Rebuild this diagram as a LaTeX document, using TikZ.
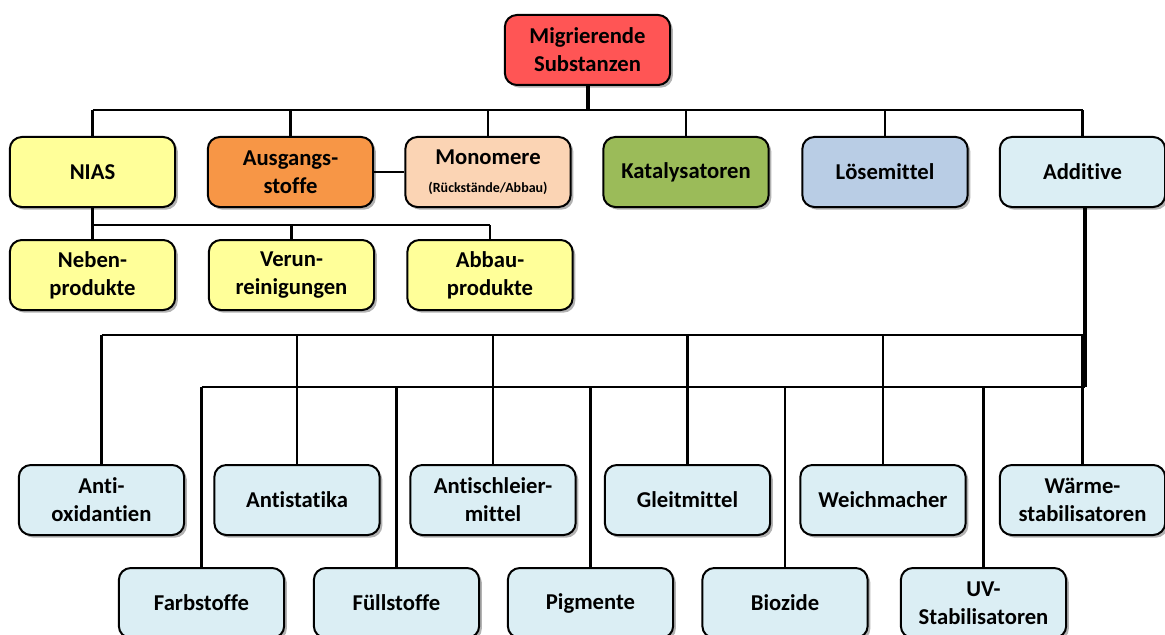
\documentclass[tikz,border=0pt]{standalone}
\usepackage{fontspec}
\setmainfont[Ligatures={NoCommon,NoRequired,NoContextual,NoRare},RawFeature={-calt}]{Carlito}
\usetikzlibrary{shadows}
\newcommand\zk{\kern0pt }
\definecolor{cred}{HTML}{FF5555}
\definecolor{cyel}{HTML}{FFFF99}
\definecolor{corg}{HTML}{F79646}
\definecolor{cpea}{HTML}{FBD4B4}
\definecolor{cgrn}{HTML}{9BBB59}
\definecolor{cblu}{HTML}{B9CDE5}
\definecolor{cpal}{HTML}{DBEEF4}
\tikzset{
  box/.style={draw=black, line width=1.5pt, rounded corners=9pt,
    minimum width=124pt, minimum height=52.5pt, inner sep=0pt, align=center,
    font=\bfseries\fontsize{17}{21}\selectfont,
    drop shadow={shadow xshift=2pt, shadow yshift=-2pt, opacity=0.3, fill=black}},
  conn/.style={draw=black, line width=1.7pt},
  thick conn/.style={draw=black, line width=3pt},
}
\begin{document}
\begin{tikzpicture}[x=0.75pt,y=-0.75pt]
\useasboundingbox (0,0) rectangle (1165,635);
% root
\node[box, fill=cred] (root) at (587.5,50) {Migrierende\\Substanzen};
% row 1
\node[box, fill=cyel] (nias) at (92.5,172) {NIAS};
\node[box, fill=corg] (aus) at (290.5,172) {Ausgangs-\\stoffe};
\node[box, fill=cpea] (mono) at (488,172) {Monomere\\{\fontsize{10.5}{13}\selectfont (Rückstände/Abbau)}};
\node[box, fill=cgrn] (kat) at (686,172) {Katalysatoren};
\node[box, fill=cblu] (loes) at (885,172) {Lösemit\zk tel};
\node[box, fill=cpal] (add) at (1082.5,172) {Addit\zk ive};
% row 2
\node[box, fill=cyel] (neben) at (92.5,275) {Neben-\\produkte};
\node[box, fill=cyel] (verun) at (291.5,275) {Verun-\\reinigungen};
\node[box, fill=cyel] (abbau) at (490,275) {Abbau-\\produkte};
% row 3
\node[box, fill=cpal] (anti) at (101.5,500) {Ant\zk i-\\oxidant\zk ien};
\node[box, fill=cpal] (stat) at (297,500) {Ant\zk istat\zk ika};
\node[box, fill=cpal] (schl) at (493,500) {Ant\zk ischleier-\\mit\zk tel};
\node[box, fill=cpal] (gleit) at (687.5,500) {Gleitmit\zk tel};
\node[box, fill=cpal] (weich) at (883,500) {Weichmacher};
\node[box, fill=cpal] (waerm) at (1082.5,500) {Wärme-\\stabilisatoren};
% row 4
\node[box, fill=cpal] (farb) at (201.5,603) {Farbstoffe};
\node[box, fill=cpal] (fuell) at (396.5,603) {Füllstoffe};
\node[box, fill=cpal] (pigm) at (590.5,603) {Pigmente};
\node[box, fill=cpal] (bioz) at (785,603) {Biozide};
\node[box, fill=cpal] (uv) at (983.5,603) {UV-\\Stabilisatoren};
% bus coordinates
\coordinate (bus1) at (587.5,110);
\coordinate (busN) at (92.5,225);
\coordinate (busA) at (1085,335);
\coordinate (busB) at (1085,387);
% top bus
\draw[conn] (nias.north |- bus1) -- (add.north |- bus1);
\foreach \n in {nias,aus,mono,kat,loes,add} \draw[conn] (\n.north) -- (\n.north |- bus1);
\draw[thick conn] (root.south) -- (bus1);
% Ausgangsstoffe - Monomere
\draw[conn] (aus.east) -- (mono.west);
% NIAS sub-bus
\draw[conn] (nias.south) -- (busN);
\draw[conn] (busN) -- (abbau.north |- busN);
\foreach \n in {neben,verun,abbau} \draw[conn] (\n.north) -- (\n.north |- busN);
% Additive buses
\draw[conn] (anti.north |- busA) -- (busA);
\draw[conn] (farb.north |- busB) -- (busB);
\foreach \n in {anti,stat,schl,gleit,weich,waerm} \draw[conn] (\n.north) -- (\n.north |- busA);
\foreach \n in {farb,fuell,pigm,bioz,uv} \draw[conn] (\n.north) -- (\n.north |- busB);
\draw[thick conn] (add.south -| busB) -- (busB);
\end{tikzpicture}
\end{document}
